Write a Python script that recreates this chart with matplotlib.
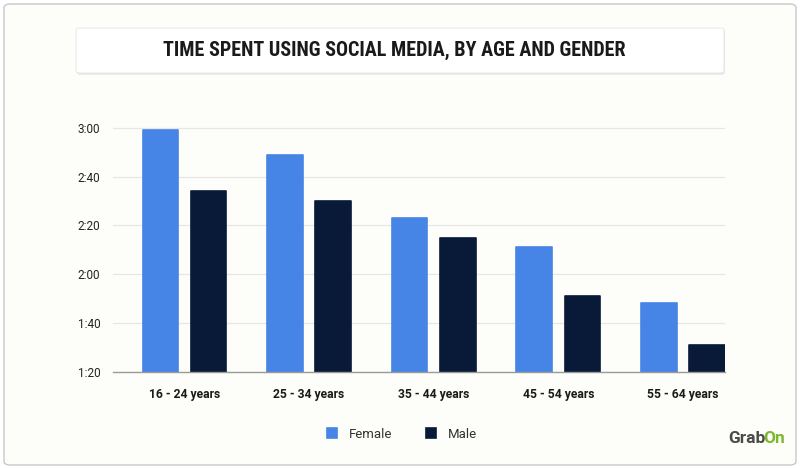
import matplotlib.pyplot as plt
from matplotlib.patches import FancyBboxPatch
from matplotlib.ticker import FixedLocator
import numpy as np

plt.rcParams['font.family'] = ['Roboto', 'DejaVu Sans']

# Data (minutes spent per day)
age_groups = ['16 - 24 years', '25 - 34 years', '35 - 44 years', '45 - 54 years', '55 - 64 years']
female = [179, 169, 143, 131, 108]
male = [154, 150, 135, 111, 91]
y_ticks = [80, 100, 120, 140, 160, 180]
y_labels = ['1:20', '1:40', '2:00', '2:20', '2:40', '3:00']

female_color = '#4685E6'
male_color = '#081A38'
bg = '#FDFDF9'

fig = plt.figure(figsize=(8, 4.69), dpi=100)
fig.patch.set_facecolor('white')

# outer card
card = FancyBboxPatch((4 / 800, 4 / 469), 792 / 800, 461 / 469,
                      boxstyle='round,pad=0,rounding_size=0.008',
                      transform=fig.transFigure, facecolor=bg,
                      edgecolor='#C8C8C8', linewidth=1.0, zorder=0)
fig.patches.append(card)

# title box
shadow = FancyBboxPatch((77 / 800, 1 - 75 / 469), 648 / 800, 46 / 469,
                        boxstyle='round,pad=0,rounding_size=0.005',
                        transform=fig.transFigure, facecolor='#EAEAEA',
                        edgecolor='none', zorder=1)
fig.patches.append(shadow)
tbox = FancyBboxPatch((76 / 800, 1 - 73 / 469), 648 / 800, 45 / 469,
                      boxstyle='round,pad=0,rounding_size=0.005',
                      transform=fig.transFigure, facecolor='white',
                      edgecolor='#E4E4E4', linewidth=0.6, zorder=2)
fig.patches.append(tbox)
fig.text(394 / 800, 1 - 50 / 469, 'TIME SPENT USING SOCIAL MEDIA, BY AGE AND GENDER',
         ha='center', va='center', fontsize=14.5, fontweight='bold',
         color='#1A1A1A', family=['Roboto Condensed', 'Roboto', 'DejaVu Sans'], zorder=3)

ax = fig.add_axes([112.7 / 800, 1 - 371.7 / 469, 612.3 / 800, 245 / 469])
ax.set_zorder(5)
ax.patch.set_alpha(0)

x = np.arange(len(age_groups))
w = 0.286
off = 0.193
ax.bar(x - off, [v - 80 for v in female], w, bottom=80, color=female_color,
       edgecolor=female_color, linewidth=1.2, joinstyle='round', zorder=3, label='Female')
ax.bar(x + off, [v - 80 for v in male], w, bottom=80, color=male_color,
       edgecolor=male_color, linewidth=1.2, joinstyle='round', zorder=3, label='Male')

ax.set_xlim(-0.576, 4.338)
ax.set_ylim(80, 180.5)
ax.yaxis.set_major_locator(FixedLocator(y_ticks))
ax.set_yticklabels(y_labels, fontsize=8.5, color='#222222')
ax.set_xticks(x)
ax.set_xticklabels(age_groups, fontsize=8.7, fontweight='bold', color='#1A1A1A')
ax.tick_params(axis='y', length=0, pad=9)
ax.tick_params(axis='x', length=0, pad=12)
ax.grid(axis='y', color='#E6E6E6', linewidth=0.9, zorder=0)
for s in ['top', 'right', 'left']:
    ax.spines[s].set_visible(False)
ax.spines['bottom'].set_color('#9A9A9A')
ax.spines['bottom'].set_linewidth(1.0)
ax.spines['bottom'].set_zorder(4)

leg = fig.legend(loc='center', bbox_to_anchor=(402 / 800, 1 - 434 / 469), ncol=2,
                 frameon=False, fontsize=9.5, handlelength=0.8, handleheight=0.8,
                 columnspacing=2.5, handletextpad=0.9)
for t in leg.get_texts():
    t.set_color('#333333')

# logo
grab = fig.text(728 / 800, 1 - 438 / 469, 'Grab', ha='left', va='center', fontsize=12.5,
                fontweight='bold', color='#4A4A4A')
fig.add_artist(plt.Annotation('On', xy=(1, 0.5), xycoords=grab, xytext=(-1.5, 0),
                              textcoords='offset points', ha='left', va='center',
                              fontsize=12.5, fontweight='bold', color='#7CB82F',
                              annotation_clip=False))

fig.savefig('out.png', dpi=100, facecolor='white')
